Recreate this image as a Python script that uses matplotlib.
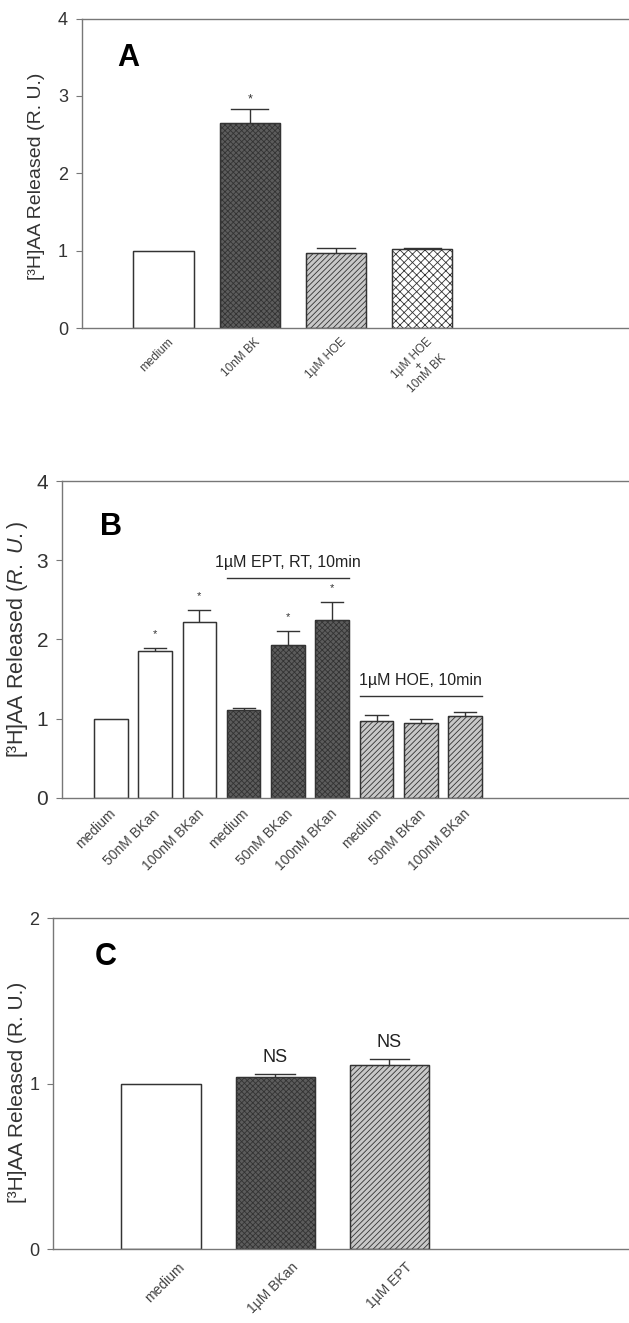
import numpy as np
import matplotlib
matplotlib.use('Agg')
import matplotlib.pyplot as plt
from matplotlib.transforms import ScaledTranslation

plt.rcParams['font.family'] = ['Liberation Sans', 'DejaVu Sans']
plt.rcParams['mathtext.fontset'] = 'custom'
plt.rcParams['mathtext.rm'] = 'Liberation Sans'
plt.rcParams['mathtext.it'] = 'Liberation Sans:italic'
plt.rcParams['hatch.linewidth'] = 0.6

# ---- data ----
a_labels = ['medium', '10nM BK', '1µM HOE', '1µM HOE\n+\n10nM BK']
a_vals = [1.0, 2.65, 0.97, 1.02]
a_err = [0.0, 0.18, 0.07, 0.02]
a_star = [False, True, False, False]

b_labels = ['medium', '50nM BKan', '100nM BKan',
            'medium', '50nM BKan', '100nM BKan',
            'medium', '50nM BKan', '100nM BKan']
b_vals = [1.0, 1.85, 2.22, 1.11, 1.93, 2.25, 0.97, 0.94, 1.03]
b_err = [0.0, 0.04, 0.15, 0.03, 0.17, 0.22, 0.07, 0.05, 0.05]
b_star = [False, True, True, False, True, True, False, False, False]
b_groups = ['1µM EPT, RT, 10min', '1µM HOE, 10min']
b_group_idx = [(3, 5), (6, 8)]
b_group_y = [2.78, 1.28]

c_labels = ['medium', '1µM BKan', '1µM EPT']
c_vals = [1.0, 1.04, 1.11]
c_err = [0.0, 0.02, 0.04]
c_note = ['', 'NS', 'NS']

# styles: (facecolor, hatch)
WHITE = ('white', None)
DARK = ('#5c5c5c', 'xxxxxx')
DIAG = ('#c8c8c8', '//////')
CROSS = ('white', 'xxxx')

fig = plt.figure(figsize=(6.29, 13.23), dpi=100)


def style_axes(ax, ylim, yticks, tick_fs):
    ax.set_ylim(*ylim)
    ax.set_yticks(yticks)
    for s in ['top', 'left', 'bottom']:
        ax.spines[s].set_color('#777777')
        ax.spines[s].set_linewidth(1.0)
    ax.spines['right'].set_visible(False)
    ax.tick_params(axis='y', direction='out', length=4, color='#777777',
                   labelsize=tick_fs, labelcolor='#333333', pad=6)
    ax.tick_params(axis='x', length=0, labelcolor='#444444')


def shift_xlabels(ax, dx, dy):
    off = ScaledTranslation(dx / 100, dy / 100, fig.dpi_scale_trans)
    for lab in ax.get_xticklabels():
        lab.set_transform(lab.get_transform() + off)


def draw_bars(ax, x, vals, errs, styles, width, halfw):
    for xi, v, e, (fc, h) in zip(x, vals, errs, styles):
        ax.bar(xi, v, width, color=fc, hatch=h, edgecolor='#333333', linewidth=0.8)
        ax.bar(xi, v, width, fill=False, edgecolor='#333333', linewidth=1.0)
        if e > 0:
            ax.errorbar(xi, v, yerr=[[0], [e]], fmt='none', ecolor='#333333',
                        elinewidth=1.0, capsize=0)
            ax.plot([xi - halfw, xi + halfw], [v + e, v + e], color='#333333', lw=1.0)


# ---------------- Panel A ----------------
axA = fig.add_axes([0.130, 0.752, 0.870, 0.234])
xa = np.arange(len(a_vals))
draw_bars(axA, xa, a_vals, a_err, [WHITE, DARK, DIAG, CROSS], 0.7, 0.215)
for xi, v, e, s in zip(xa, a_vals, a_err, a_star):
    if s:
        axA.text(xi, v + e + 0.12, '*', ha='center', va='center', fontsize=9, color='#333333')
axA.set_xlim(-0.95, 5.4)
style_axes(axA, (0, 4), [0, 1, 2, 3, 4], 13)
axA.set_xticks(xa)
axA.set_xticklabels(a_labels, rotation=45, ha='right', rotation_mode='anchor',
                    fontsize=8.5, linespacing=0.85, multialignment='center')
shift_xlabels(axA, 4, -3)
axA.set_ylabel('[³H]AA Released (R. U.)', fontsize=14, color='#333333')
axA.yaxis.set_label_coords(-0.068, 0.49)
axA.text(0.064, 0.874, 'A', transform=axA.transAxes, fontsize=22, fontweight='bold',
         ha='left', va='center')

# ---------------- Panel B ----------------
axB = fig.add_axes([0.0986, 0.397, 0.9014, 0.2394])
xb = np.arange(len(b_vals))
stylesB = [WHITE] * 3 + [DARK] * 3 + [DIAG] * 3
draw_bars(axB, xb, b_vals, b_err, stylesB, 0.76, 0.25)
for xi, v, e, s in zip(xb, b_vals, b_err, b_star):
    if s:
        axB.text(xi, v + e + 0.18, '*', ha='center', va='center', fontsize=8, color='#333333')
for name, (i0, i1), gy in zip(b_groups, b_group_idx, b_group_y):
    axB.plot([xb[i0] - 0.38, xb[i1] + 0.38], [gy, gy], color='#333333', lw=1.0)
    axB.text((xb[i0] + xb[i1]) / 2, gy + 0.1, name, ha='center', va='bottom',
             fontsize=11.5, color='#222222')
axB.set_xlim(-1.1, 11.7)
style_axes(axB, (0, 4), [0, 1, 2, 3, 4], 15)
axB.set_xticks(xb)
axB.set_xticklabels(b_labels, rotation=45, ha='right', rotation_mode='anchor', fontsize=10)
shift_xlabels(axB, -2, -4)
axB.set_ylabel(r'[³H]AA Released ($\mathit{R.\ U.}$)', fontsize=15.5, color='#333333')
axB.yaxis.set_label_coords(-0.056, 0.5)
axB.text(0.067, 0.855, 'B', transform=axB.transAxes, fontsize=22, fontweight='bold',
         ha='left', va='center')

# ---------------- Panel C ----------------
axC = fig.add_axes([0.0843, 0.0559, 0.9157, 0.250])
xc = np.arange(len(c_vals))
draw_bars(axC, xc, c_vals, c_err, [WHITE, DARK, DIAG], 0.7, 0.175)
for xi, v, e, n in zip(xc, c_vals, c_err, c_note):
    if n:
        axC.text(xi, v + e + 0.1, n, ha='center', va='center', fontsize=13, color='#222222')
axC.set_xlim(-0.95, 4.1)
style_axes(axC, (0, 2), [0, 1, 2], 13)
axC.set_xticks(xc)
axC.set_xticklabels(c_labels, rotation=45, ha='right', rotation_mode='anchor', fontsize=10)
shift_xlabels(axC, 16, -6)
axC.set_ylabel('[³H]AA Released (R. U.)', fontsize=15, color='#333333')
axC.yaxis.set_label_coords(-0.045, 0.475)
axC.text(0.073, 0.882, 'C', transform=axC.transAxes, fontsize=22, fontweight='bold',
         ha='left', va='center')

fig.savefig('out.png', dpi=100)
